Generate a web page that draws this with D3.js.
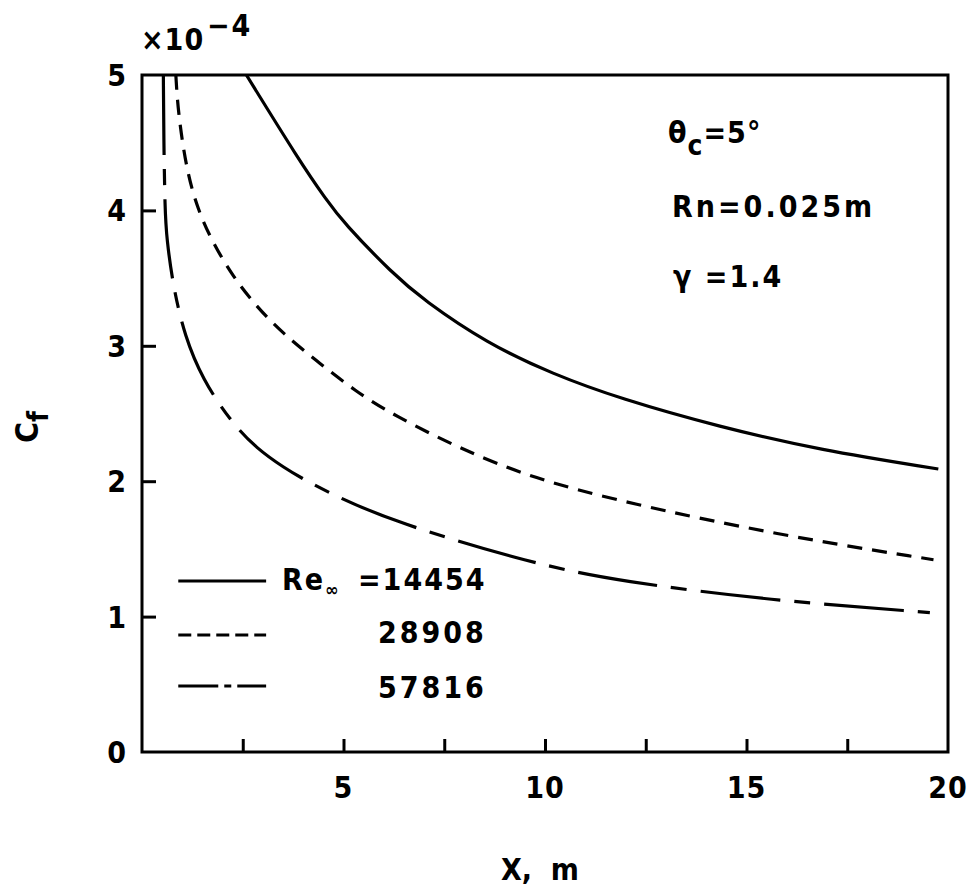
<!DOCTYPE html>
<html>
<head>
<meta charset="utf-8">
<script src="https://cdn.jsdelivr.net/npm/d3@7/dist/d3.min.js"></script>
<style>
  html, body { margin: 0; padding: 0; background: #fff; }
  svg { display: block; }
  text { font-family: "DejaVu Sans Condensed", "DejaVu Sans", sans-serif; font-weight: bold; fill: #000; }
</style>
</head>
<body>
<svg id="chart" width="977" height="889"></svg>
<script>
// ---- data ----
const xTicks = [5, 10, 15, 20];
const xMinorTicks = [2.5, 5, 7.5, 10, 12.5, 15, 17.5];
const yTicks = [0, 1, 2, 3, 4, 5];
const seriesNames = ["14454", "28908", "57816"];

const re14454X = [2.59, 3.92, 4.57, 5.0, 6.23, 6.98, 8.55, 10.2, 11.86, 14.34, 16.82, 19.76];
const re14454Y = [5.0, 4.36, 4.08, 3.91, 3.53, 3.34, 3.02, 2.79, 2.61, 2.40, 2.23, 2.09];

const re28908X = [0.84, 0.89, 1.10, 1.39, 1.76, 2.26, 2.84, 3.5, 4.41, 5.32, 6.23, 7.89, 9.71, 12.03, 15.83, 19.64];
const re28908Y = [5.0, 4.74, 4.30, 4.00, 3.76, 3.51, 3.29, 3.09, 2.87, 2.66, 2.49, 2.24, 2.02, 1.84, 1.60, 1.42];

const re57816X = [0.53, 0.54, 0.57, 0.61, 0.77, 1.06, 1.51, 2.18, 2.84, 3.58, 3.92, 4.66, 6.23, 9.71, 11.86, 15.58, 19.55];
const re57816Y = [5.0, 4.54, 4.0, 3.80, 3.44, 3.07, 2.75, 2.45, 2.24, 2.09, 2.03, 1.91, 1.70, 1.39, 1.26, 1.12, 1.03];

// ---- drawing ----
const svg = d3.select("#chart");
const x = d3.scaleLinear().domain([0, 20]).range([142, 948]);
const y = d3.scaleLinear().domain([0, 5]).range([752, 75]);

const series = [
  { name: seriesNames[0], xs: re14454X, ys: re14454Y, dash: null, legendDash: null },
  { name: seriesNames[1], xs: re28908X, ys: re28908Y, dash: "15,10", legendDash: "13,6" },
  { name: seriesNames[2], xs: re57816X, ys: re57816Y, dash: "80,14,16,14", legendDash: "40,6,7,6,40" }
];

svg.append("clipPath").attr("id", "plotclip")
  .append("rect").attr("x", x(0)).attr("y", y(5)).attr("width", x(20) - x(0)).attr("height", y(0) - y(5));

const line = d3.line().x(d => x(d[0])).y(d => y(d[1])).curve(d3.curveBasis);

const g = svg.append("g").attr("clip-path", "url(#plotclip)");
series.forEach(s => {
  const pts = s.xs.map((v, i) => [v, s.ys[i]]);
  g.append("path").datum(pts)
    .attr("d", line)
    .attr("fill", "none").attr("stroke", "#000").attr("stroke-width", 3.2)
    .attr("stroke-dasharray", s.dash);
});

// frame
svg.append("rect").attr("x", x(0)).attr("y", y(5)).attr("width", x(20) - x(0)).attr("height", y(0) - y(5))
  .attr("fill", "none").attr("stroke", "#000").attr("stroke-width", 3);

// bottom axis (inward ticks, labels)
const xAxis = d3.axisBottom(x).tickValues(xMinorTicks).tickSize(-13).tickFormat("");
const gx = svg.append("g").attr("transform", `translate(0,${y(0)})`).call(xAxis);
gx.select(".domain").remove();
gx.selectAll(".tick line").attr("stroke", "#000").attr("stroke-width", 3);
svg.append("g").selectAll("text").data(xTicks).join("text")
  .attr("x", d => x(d)).attr("y", 798).attr("text-anchor", "middle")
  .attr("font-size", 30).attr("letter-spacing", 1).text(d => d);

// left axis
const yAxis = d3.axisLeft(y).tickValues(yTicks.filter(d => d > 0 && d < 5)).tickSize(-14).tickFormat("");
const gy = svg.append("g").attr("transform", `translate(${x(0)},0)`).call(yAxis);
gy.select(".domain").remove();
gy.selectAll(".tick line").attr("stroke", "#000").attr("stroke-width", 3);
svg.append("g").selectAll("text").data(yTicks).join("text")
  .attr("x", 126).attr("y", d => y(d) + 11).attr("text-anchor", "end")
  .attr("font-size", 30).text(d => d);

// multiplier
svg.append("text").attr("x", 141).attr("y", 50).attr("font-size", 30).attr("letter-spacing", 1).text("×10");
svg.append("text").attr("x", 207).attr("y", 36).attr("font-size", 30).attr("letter-spacing", 2).text("−4");

// axis titles
svg.append("text").attr("x", 540).attr("y", 880).attr("text-anchor", "middle").attr("font-size", 30)
  .attr("xml:space", "preserve").text("X,  m");
const yl = svg.append("text").attr("transform", "translate(38,443) rotate(-90)").attr("font-size", 32);
yl.append("tspan").text("C");
yl.append("tspan").attr("dy", 10).attr("font-size", 28).text("f");

// annotations
const t1 = svg.append("text").attr("x", 668).attr("y", 143).attr("font-size", 30).attr("letter-spacing", 1);
t1.append("tspan").text("θ");
t1.append("tspan").attr("dy", 12).attr("font-size", 28).text("c");
t1.append("tspan").attr("dy", -12).text("=5°");
svg.append("text").attr("x", 672).attr("y", 217).attr("font-size", 30).attr("letter-spacing", 3).text("Rn=0.025m");
svg.append("text").attr("x", 673).attr("y", 287).attr("font-size", 30).attr("letter-spacing", 2).text("γ =1.4");

// legend
const legY = [581, 635, 686];
const legBase = [590, 643, 698];
series.forEach((s, i) => {
  svg.append("line").attr("x1", x(0.9)).attr("x2", x(3.08))
    .attr("y1", legY[i]).attr("y2", legY[i])
    .attr("stroke", "#000").attr("stroke-width", 3).attr("stroke-dasharray", s.legendDash);
  if (i === 0) {
    const lt = svg.append("text").attr("x", 282).attr("y", legBase[i]).attr("font-size", 30).attr("letter-spacing", 2);
    lt.append("tspan").text("Re");
    lt.append("tspan").attr("dy", 6).attr("font-size", 18).text("∞");
    lt.append("tspan").attr("x", 358).attr("dy", -6).text("=" + s.name);
  } else {
    svg.append("text").attr("x", 378).attr("y", legBase[i]).attr("font-size", 30).attr("letter-spacing", 3).text(s.name);
  }
});
</script>
</body>
</html>
